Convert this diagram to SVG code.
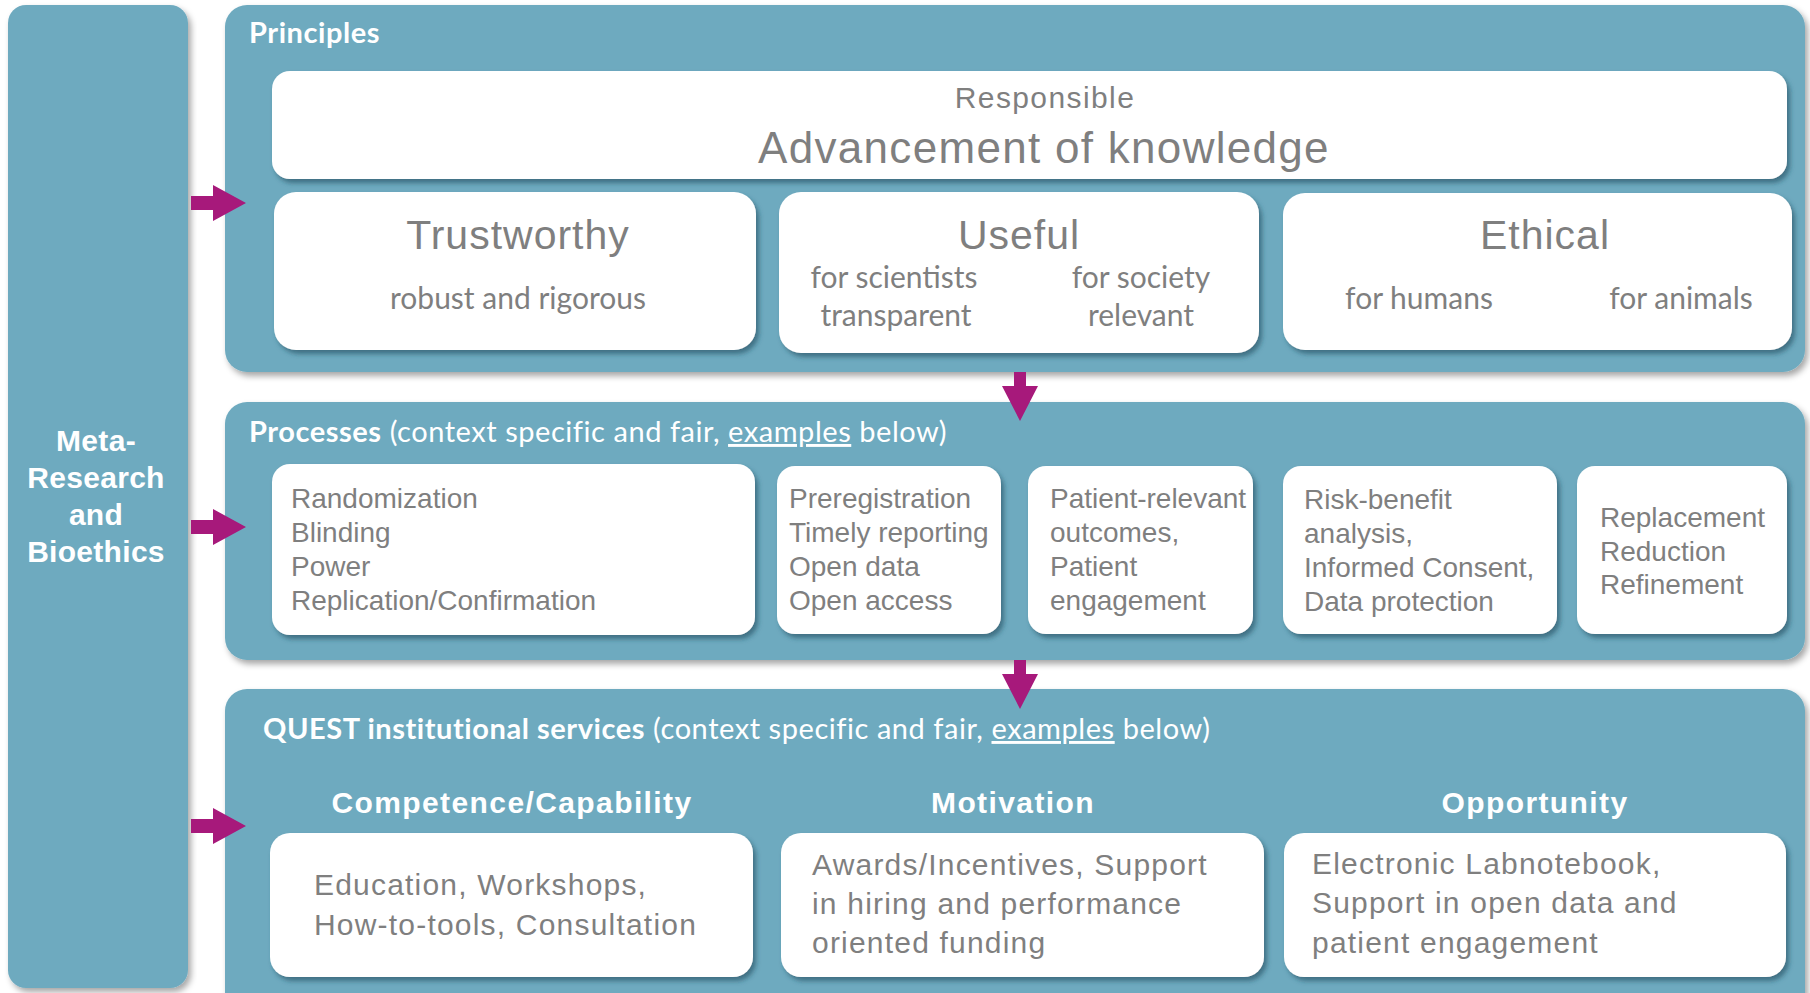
<svg xmlns="http://www.w3.org/2000/svg" width="1810" height="993" viewBox="0 0 1810 993">
<defs>
<filter id="psh" x="-5%" y="-5%" width="110%" height="115%">
<feDropShadow dx="3" dy="4" stdDeviation="3" flood-color="#000" flood-opacity="0.35"/>
</filter>
<filter id="bsh" x="-5%" y="-10%" width="110%" height="125%">
<feDropShadow dx="3" dy="4" stdDeviation="2.5" flood-color="#1d4a5a" flood-opacity="0.6"/>
</filter>
<style>
.panel{fill:#6EAABF;filter:url(#psh)}
.box{fill:#ffffff;filter:url(#bsh)}
.arrow{fill:#A7197B}
.cal{font-family:Lato,"Open Sans",sans-serif}
.ari{font-family:"Liberation Sans",Arial,sans-serif}
.wh{fill:#ffffff}
.gr{fill:#7F7F7F}
.b{font-weight:bold}
.hd{font-size:29px;letter-spacing:0.55px}
.big{font-size:41px;letter-spacing:1px}
.sub{font-size:30px}
.pt{font-size:28px}
.bt{font-size:30px;letter-spacing:1.2px}
.sh{font-size:30px;letter-spacing:1.4px;font-weight:bold}
.mid{text-anchor:middle}
</style>
</defs>
<rect width="1810" height="993" fill="#ffffff"/>

<g id="meta-research">
<rect class="panel" x="8" y="5" width="180" height="983" rx="18"/>
<text class="ari wh b mid" font-size="30" x="96" letter-spacing="0.3"><tspan x="96" y="451">Meta-</tspan><tspan x="96" y="488">Research</tspan><tspan x="96" y="525">and</tspan><tspan x="96" y="562">Bioethics</tspan></text>
</g>

<g id="principles">
<rect class="panel" x="225" y="5" width="1580" height="367" rx="22"/>
<text class="cal wh b hd" x="249" y="43">Principles</text>
</g>

<g id="responsible">
<rect class="box" x="272" y="71" width="1515" height="108" rx="18"/>
<text class="ari gr mid" font-size="30" letter-spacing="1.4" x="1045" y="108">Responsible</text>
<text class="ari gr mid" font-size="44" letter-spacing="1.3" x="1044" y="163">Advancement of knowledge</text>
</g>

<g id="trustworthy">
<rect class="box" x="274" y="192" width="482" height="158" rx="22"/>
<text class="ari gr big mid" x="518" y="249">Trustworthy</text>
<text class="cal gr sub mid" x="518" y="309">robust and rigorous</text>
</g>

<g id="useful">
<rect class="box" x="779" y="192" width="480" height="161" rx="22"/>
<text class="ari gr big mid" x="1019" y="249">Useful</text>
<text class="cal gr sub mid" x="894" y="288">for scientists</text>
<text class="cal gr sub mid" x="1141" y="288">for society</text>
<text class="cal gr sub mid" x="896" y="326">transparent</text>
<text class="cal gr sub mid" x="1141" y="326">relevant</text>
</g>

<g id="ethical">
<rect class="box" x="1283" y="193" width="509" height="157" rx="22"/>
<text class="ari gr big mid" x="1545" y="249">Ethical</text>
<text class="cal gr sub mid" x="1419" y="309">for humans</text>
<text class="cal gr sub mid" x="1681" y="309">for animals</text>
</g>

<g id="processes">
<rect class="panel" x="225" y="402" width="1580" height="258" rx="22"/>
<text class="cal wh hd" x="249" y="442"><tspan class="b">Processes</tspan> (context specific and fair, <tspan text-decoration="underline">examples</tspan> below)</text>
</g>

<g id="proc-methods">
<rect class="box" x="272" y="464" width="483" height="171" rx="18"/>
<text class="ari gr pt"><tspan x="291" y="508">Randomization</tspan><tspan x="291" y="542">Blinding</tspan><tspan x="291" y="576">Power</tspan><tspan x="291" y="610">Replication/Confirmation</tspan></text>
</g>

<g id="proc-open">
<rect class="box" x="777" y="466" width="224" height="168" rx="18"/>
<text class="ari gr pt"><tspan x="789" y="508">Preregistration</tspan><tspan x="789" y="542">Timely reporting</tspan><tspan x="789" y="576">Open data</tspan><tspan x="789" y="610">Open access</tspan></text>
</g>

<g id="proc-patient">
<rect class="box" x="1028" y="466" width="225" height="168" rx="18"/>
<text class="ari gr pt"><tspan x="1050" y="508">Patient-relevant</tspan><tspan x="1050" y="542">outcomes,</tspan><tspan x="1050" y="576">Patient</tspan><tspan x="1050" y="610">engagement</tspan></text>
</g>

<g id="proc-risk">
<rect class="box" x="1283" y="466" width="274" height="168" rx="18"/>
<text class="ari gr pt"><tspan x="1304" y="509">Risk-benefit</tspan><tspan x="1304" y="543">analysis,</tspan><tspan x="1304" y="577">Informed Consent,</tspan><tspan x="1304" y="611">Data protection</tspan></text>
</g>

<g id="proc-3r">
<rect class="box" x="1577" y="466" width="210" height="168" rx="18"/>
<text class="ari gr pt"><tspan x="1600" y="527">Replacement</tspan><tspan x="1600" y="561">Reduction</tspan><tspan x="1600" y="594">Refinement</tspan></text>
</g>

<g id="quest">
<rect class="panel" x="225" y="689" width="1580" height="330" rx="22"/>
<text class="cal wh hd" x="263" y="739"><tspan class="b">QUEST institutional services</tspan> (context specific and fair, <tspan text-decoration="underline">examples</tspan> below)</text>
<text class="ari wh sh mid" x="512" y="813">Competence/Capability</text>
<text class="ari wh sh mid" x="1013" y="813">Motivation</text>
<text class="ari wh sh mid" x="1535" y="813">Opportunity</text>
</g>

<g id="competence">
<rect class="box" x="270" y="833" width="483" height="144" rx="20"/>
<text class="ari gr bt"><tspan x="314" y="895">Education, Workshops,</tspan><tspan x="314" y="935">How-to-tools, Consultation</tspan></text>
</g>

<g id="motivation">
<rect class="box" x="781" y="833" width="483" height="144" rx="20"/>
<text class="ari gr bt"><tspan x="812" y="875">Awards/Incentives, Support</tspan><tspan x="812" y="914">in hiring and performance</tspan><tspan x="812" y="953">oriented funding</tspan></text>
</g>

<g id="opportunity">
<rect class="box" x="1284" y="833" width="502" height="144" rx="20"/>
<text class="ari gr bt"><tspan x="1312" y="874">Electronic Labnotebook,</tspan><tspan x="1312" y="913">Support in open data and</tspan><tspan x="1312" y="953">patient engagement</tspan></text>
</g>

<g id="connectors">
<polygon class="arrow" points="191,196 213,196 213,185 246,203 213,221 213,210 191,210"/>
<polygon class="arrow" points="191,520 213,520 213,509 246,527 213,545 213,534 191,534"/>
<polygon class="arrow" points="191,819 213,819 213,808 246,826 213,844 213,833 191,833"/>
<polygon class="arrow" points="1014,372 1026,372 1026,386 1038,386 1020,421 1002,386 1014,386"/>
<polygon class="arrow" points="1014,660 1026,660 1026,674 1038,674 1020,709 1002,674 1014,674"/>
</g>
</svg>
